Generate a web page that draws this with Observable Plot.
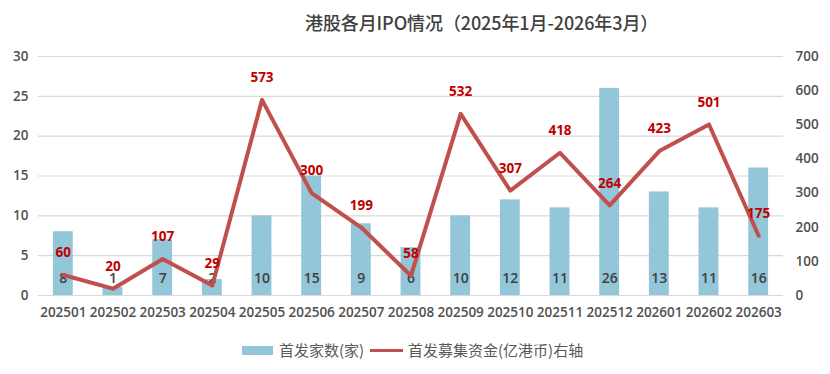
<!DOCTYPE html>
<html><head><meta charset="utf-8">
<script src="https://cdn.jsdelivr.net/npm/d3@7"></script>
<script src="https://cdn.jsdelivr.net/npm/@observablehq/plot@0.6"></script>
<style>
body{margin:0;background:#fff;font-family:"Noto Sans CJK SC","DejaVu Sans",sans-serif;}
#wrap{position:relative;width:830px;height:374px;overflow:hidden;}
#title{position:absolute;left:0;top:0;width:830px;height:44px;}
#title span{position:absolute;left:305px;top:9px;font-size:18px;color:#404040;white-space:nowrap;letter-spacing:-0.1px;line-height:26px;font-weight:500;}
#chart{position:absolute;left:0;top:44px;}
#legend{position:absolute;left:0;top:338px;width:830px;height:24px;font-size:15px;color:#595959;}
.sw{position:absolute;}
.lt{position:absolute;top:0;white-space:nowrap;line-height:24px;}
</style></head>
<body><div id="wrap">
<div id="title"><span>港股各月IPO情况（2025年1月-2026年3月）</span></div>
<div id="chart"></div>
<div id="legend">
 <div class="sw" style="left:242px;top:8px;width:31px;height:9px;background:#92c6d8"></div>
 <div class="lt" style="left:279px">首发家数(家)</div>
 <div class="sw" style="left:370px;top:11px;width:33px;height:3px;background:#c0504d"></div>
 <div class="lt" style="left:408px">首发募集资金(亿港币)右轴</div>
</div>
</div>
<script>
const months = ["202501","202502","202503","202504","202505","202506","202507","202508","202509","202510","202511","202512","202601","202602","202603"];
const counts = [8,1,7,2,10,15,9,6,10,12,11,26,13,11,16];
const funds = [60,20,107,29,573,300,199,58,532,307,418,264,423,501,175];
const leftTicks = [0,5,10,15,20,25,30];
const rightTicks = [0,100,200,300,400,500,600,700];

const k = 30/700;
const data = months.map((m,i)=>({m, c: counts[i], f: funds[i]}));
const font = "'Open Sans', 'DejaVu Sans', sans-serif";
const tickFill = "#505050";

const chart = Plot.plot({
  width: 830, height: 290,
  marginLeft: 38, marginRight: 47, marginTop: 12, marginBottom: 39,
  style: {fontFamily: font, fontSize: "13.5px", fontWeight: 600, color: tickFill, background: "transparent"},
  x: {type: "band", domain: months, paddingInner: 0.6, paddingOuter: 0.3, round: false},
  y: {domain: [0, 30]},
  marks: [
    Plot.gridY(leftTicks, {stroke: "#d9d9d9", strokeOpacity: 1, strokeWidth: 1.2}),
    Plot.axisX({tickSize: 0, tickPadding: 12, label: null, fill: tickFill, fontSize: 13.5}),
    Plot.axisY(leftTicks, {anchor: "left", tickSize: 0, tickPadding: 10, label: null, fill: tickFill, fontSize: 13.5}),
    Plot.axisY(rightTicks, {anchor: "right", y: d => d*k, tickFormat: (d) => d, text: d => String(d), tickSize: 0, tickPadding: 12, label: null, fill: tickFill, fontSize: 13.5}),
    Plot.barY(data, {x: "m", y: "c", fill: "#92c6d8"}),
    Plot.text(data, {x: "m", y: 0, text: d => String(d.c), dy: -17, fill: "#404040", fontSize: 14, fontWeight: 600}),
    Plot.line(data, {x: "m", y: d => d.f*k, stroke: "#c0504d", strokeWidth: 4}),
    Plot.text(data, {x: "m", y: d => d.f*k, text: d => String(d.f), dy: -22, fill: "#c00000", fontSize: 13.5, fontWeight: 700})
  ]
});
document.getElementById("chart").appendChild(chart);
</script>
</body></html>
